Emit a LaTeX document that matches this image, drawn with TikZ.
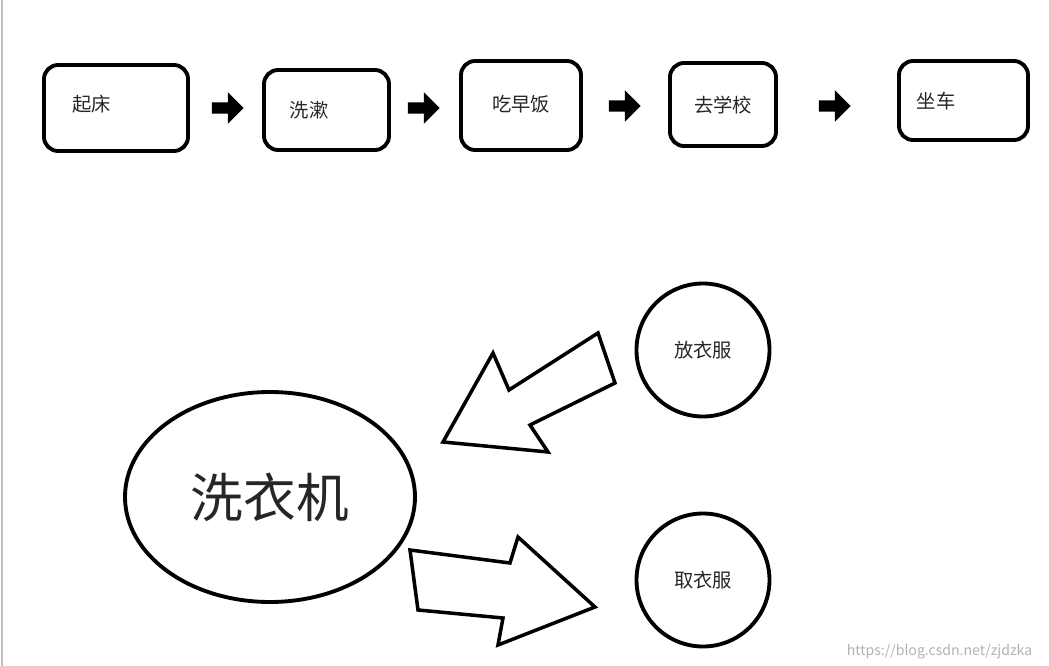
\documentclass[tikz,border=0pt]{standalone}
\usepackage{fontspec}
\setmainfont{Noto Sans CJK SC}
\usetikzlibrary{shapes.arrows,shapes.geometric}
\begin{document}
\begin{tikzpicture}[x=0.02cm, y=-0.02cm, line width=2.2pt]
	% ------------------------------------------------------------------
	% STYLE DEFINITIONS
	% ------------------------------------------------------------------
	\tikzset{
		stepbox/.style = {draw, rounded corners=8pt, inner sep=0pt},
		stext/.style = {font=\fontsize{11}{13}\selectfont, text=black!85},
		small/.style = {single arrow, fill=black, draw=none, minimum width=18pt,
		                minimum height=18pt, single arrow head extend=2pt, inner sep=0pt},
		blob/.style  = {draw, circle, minimum size=133*0.02cm, inner sep=0pt,
		                font=\fontsize{11}{13}\selectfont, text=black!85},
		hollow/.style= {draw, fill=white, line width=2pt, line join=miter}
	}
	\useasboundingbox (0,0) rectangle (1049,666);
	\draw[gray!50, line width=0.8pt] (2,0) -- (2,666);

	% --- Steps of the morning ---
	\draw[stepbox] (44,65) rectangle (188,151);
	\node[stext] (getup) at (92,104) {起床};
	\draw[stepbox] (264,70) rectangle (389,150);
	\node[stext] (wash) at (309,110) {洗漱};
	\draw[stepbox] (461,61) rectangle (581,150);
	\node[stext] (eat) at (521,104) {吃早饭};
	\draw[stepbox] (670,63) rectangle (776,146);
	\node[stext] (school) at (723,105) {去学校};
	\draw[stepbox] (899,61) rectangle (1028,140);
	\node[stext] (bus) at (936,101) {坐车};

	\foreach \x/\y in {225/108, 421/108, 622/106, 832/106}
		\node[small] at (\x,\y) {};

	% --- Washing machine ---
	\node[draw, ellipse, minimum width=290*0.02cm, minimum height=210*0.02cm,
	      font=\fontsize{30}{34}\selectfont, text=black!85] (washer) at (270,497) {洗衣机};
	\node[blob] (put) at (703,350) {放衣服};
	\node[blob] (take) at (703,580) {取衣服};

	\draw[hollow] (443,442) -- (493,353) -- (509,390) -- (598,333) -- (615,383)
		-- (530,425) -- (548,452) -- cycle;
	\draw[hollow] (410,550) -- (510,563) -- (518,537) -- (595,607) -- (498,645)
		-- (503,618) -- (418,610) -- cycle;

	\node[text=gray!60, font=\fontsize{8}{10}\selectfont, anchor=east] (mark) at (1040,652)
		{https://blog.csdn.net/zjdzka};
\end{tikzpicture}
\end{document}
